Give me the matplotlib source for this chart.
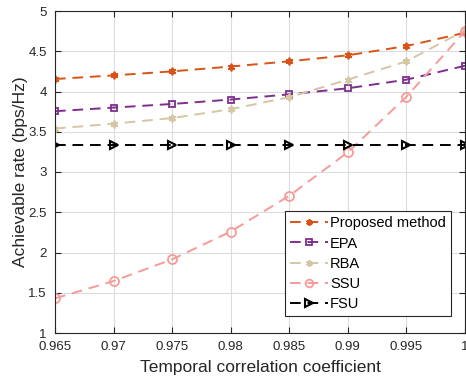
import matplotlib
matplotlib.use("Agg")
import matplotlib.pyplot as plt
import numpy as np

rho = [0.965, 0.97, 0.975, 0.98, 0.985, 0.99, 0.995, 1.0]
proposed = [4.155, 4.20, 4.25, 4.31, 4.375, 4.45, 4.565, 4.73]
epa = [3.755, 3.80, 3.845, 3.90, 3.965, 4.04, 4.147, 4.32]
rba = [3.54, 3.60, 3.67, 3.78, 3.93, 4.147, 4.375, 4.76]
ssu = [1.43, 1.645, 1.915, 2.26, 2.705, 3.245, 3.935, 4.75]
fsu = [3.33] * 8

xticks = [0.965, 0.97, 0.975, 0.98, 0.985, 0.99, 0.995, 1]
xticklabels = ['0.965', '0.97', '0.975', '0.98', '0.985', '0.99', '0.995', '1']
yticks = [1, 1.5, 2, 2.5, 3, 3.5, 4, 4.5, 5]
yticklabels = ['1', '1.5', '2', '2.5', '3', '3.5', '4', '4.5', '5']

plt.rcParams['font.family'] = ['Liberation Sans', 'DejaVu Sans']

fig = plt.figure(figsize=(4.66, 3.82), dpi=100)
ax = fig.add_axes([55/466, 1 - 333/382, 410/466, 322/382])

dash = (0, (5.5, 3.5))
lw = 1.4
ax.plot(rho, proposed, color='#D95319', ls=dash, lw=lw, marker=(6, 2, 0),
        ms=5.5, mew=1.3, label='Proposed method')
ax.plot(rho, epa, color='#7E2F8E', ls=dash, lw=lw, marker='s', ms=5,
        mfc='none', mew=1.3, label='EPA')
ax.plot(rho, rba, color='#D5C6A4', ls=dash, lw=lw, marker=(6, 2, 0),
        ms=5.5, mew=1.3, label='RBA')
ax.plot(rho, ssu, color='#F79A98', ls=dash, lw=lw, marker='o', ms=6.5,
        mfc='none', mew=1.3, label='SSU')
ax.plot(rho, fsu, color='black', ls=dash, lw=lw, marker='>', ms=6,
        mfc='none', mew=1.5, label='FSU')

ax.set_xlim(0.965, 1)
ax.set_ylim(1, 5)
ax.set_xticks(xticks)
ax.set_xticklabels(xticklabels)
ax.set_yticks(yticks)
ax.set_yticklabels(yticklabels)
ax.grid(True, color='#DCDCDC', lw=0.8)
ax.set_axisbelow(True)
ax.tick_params(direction='in', top=True, right=True, labelsize=9.5,
               colors='#262626', length=4, pad=6)
for s in ax.spines.values():
    s.set_color('#262626')
    s.set_linewidth(0.8)

ax.set_xlabel('Temporal correlation coefficient', fontsize=12.5,
              color='#262626', labelpad=5)
ax.set_ylabel('Achievable rate (bps/Hz)', fontsize=12.5, color='#262626',
              labelpad=0)

leg = ax.legend(loc='lower right', fontsize=10.5, fancybox=False,
                framealpha=1, edgecolor='#262626', handlelength=2.6,
                handletextpad=0.15, labelspacing=0.42, borderpad=0.35,
                borderaxespad=0, markerscale=0.85)
leg.get_frame().set_linewidth(0.8)
leg.set_bbox_to_anchor((396/410, (333 - 316)/322), transform=ax.transAxes)

fig.savefig('out.png', dpi=100)
